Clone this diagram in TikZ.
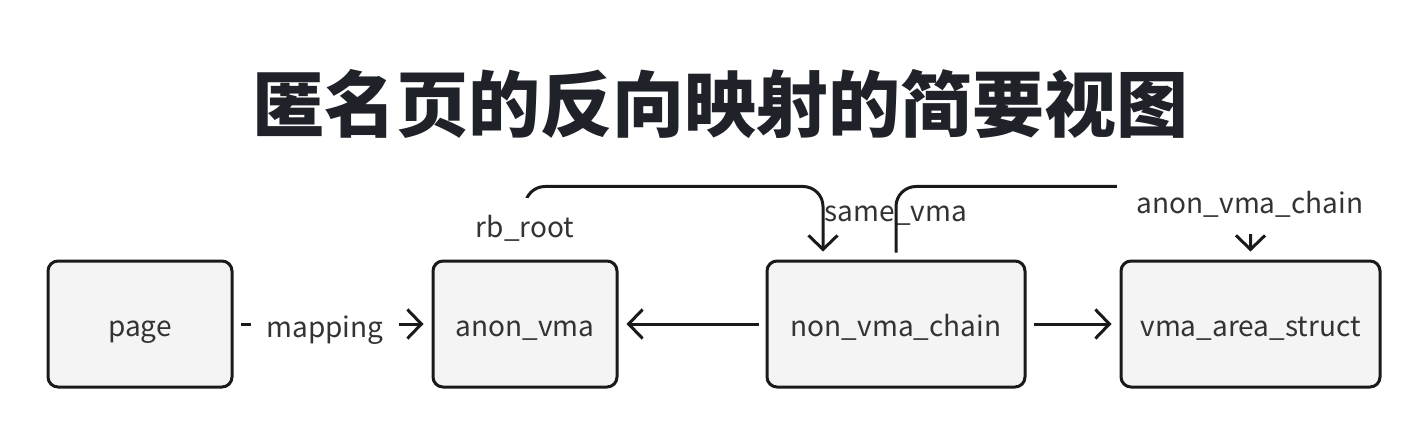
\documentclass[tikz,border=0pt]{standalone}
\usepackage{fontspec}
\setmainfont{Noto Sans CJK SC}
\usetikzlibrary{positioning,arrows.meta}
\definecolor{boxfill}{HTML}{F4F4F4}
\definecolor{ink}{HTML}{1A1A1A}
\definecolor{titleink}{HTML}{1F2329}
\definecolor{txt}{HTML}{333333}
\begin{document}
\begin{tikzpicture}[x=0.5pt, y=-0.5pt,
   box/.style={draw=ink, line width=1.5pt, rounded corners=5pt, fill=boxfill,
      text=txt, font=\fontsize{14}{16}\selectfont, minimum height=63pt, inner sep=0pt,
      text height=12pt, text depth=0pt},
   edgelabel/.style={fill=white, text=txt, font=\fontsize{14}{16}\selectfont,
      minimum height=30pt, inner xsep=10pt, inner ysep=0pt},
   freelabel/.style={text=txt, font=\fontsize{14}{16}\selectfont, inner sep=0pt},
   link/.style={draw=ink, line width=1.5pt, -{Straight Barb[length=7pt,width=14.5pt]},
      shorten <=3.5pt, shorten >=4pt}]

\useasboundingbox (0,0) rectangle (1428,438);

\node[font=\bfseries\fontsize{36}{40}\selectfont, text=titleink] (title) at (720,104) {匿名页的反向映射的简要视图};

\node[box, minimum width=92pt] (page) at (140,324) {page};
\node[box, minimum width=92pt, right=99pt of page] (anon) {anon\_vma};
\node[box, minimum width=129pt, right=73.5pt of anon] (chain) {non\_vma\_chain};
\node[box, minimum width=129.5pt, right=46.5pt of chain] (vma) {vma\_area\_struct};

% links between the boxes
\draw[link] (page) -- (anon);
\node[edgelabel, inner xsep=8pt, text height=12pt, text depth=0pt] (mapping) at (325,325) {mapping};
\draw[link] (chain) -- (anon);
\draw[link] (chain) -- (vma);

% links over the top
\draw[link, rounded corners=10pt] (anon.north) -- ++(0,-73) -| ([xshift=-36.5pt]chain.north);
\node[edgelabel] (rbroot) at (525,228) {rb\_root};
\node[freelabel] (samevma) at (896,216) {same\_vma};
\draw[link, rounded corners=10pt] (chain.north) -- ++(0,-73) -| (vma.north);
\node[edgelabel] (chainlabel) at (1250,204) {anon\_vma\_chain};

\end{tikzpicture}
\end{document}
